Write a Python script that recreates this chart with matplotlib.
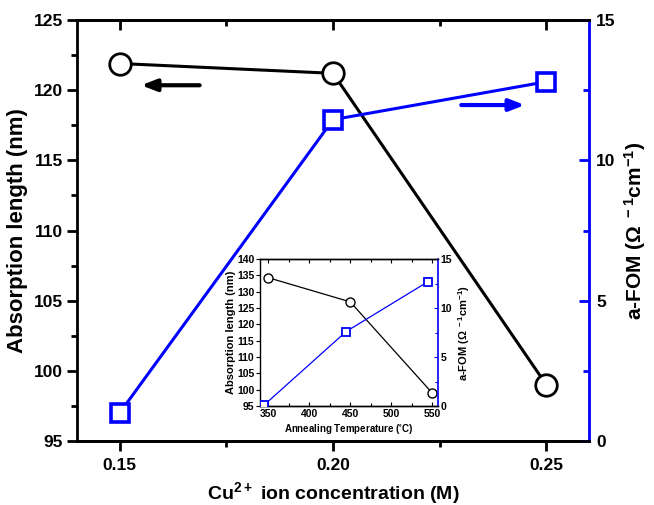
import numpy as np
import matplotlib.pyplot as plt
from matplotlib.ticker import MultipleLocator

plt.rcParams['font.family'] = ['Liberation Sans', 'DejaVu Sans']
plt.rcParams['font.weight'] = 'bold'
plt.rcParams['mathtext.default'] = 'regular'

# 主グラフのデータ
conc = [0.15, 0.20, 0.25]
abs_len = [121.9, 121.2, 99.0]
fom = [1.0, 11.45, 12.8]

# インセットのデータ
temp_abs = [350, 450, 550]
abs_len_in = [134.3, 126.9, 99.0]
temp_fom = [345, 445, 545]
fom_in = [0.1, 7.6, 12.7]

blue = '#0000ff'

fig = plt.figure(figsize=(6.54, 5.05), dpi=100)
ax = fig.add_axes([0.1177, 0.1267, 0.783, 0.8337])
ax2 = ax.twinx()

ax.plot(conc, abs_len, color='k', lw=2.2, marker='o', ms=15.5, mfc='white',
        mec='k', mew=2.0, zorder=3)
ax2.plot(conc, fom, color=blue, lw=2.2, marker='s', ms=13, mfc='white',
         mec=blue, mew=2.6, zorder=3)

ax.set_xlim(0.14, 0.26)
ax.set_ylim(95, 125)
ax2.set_ylim(0, 15)

ax.xaxis.set_major_locator(MultipleLocator(0.05))
ax.xaxis.set_minor_locator(MultipleLocator(0.025))
ax.yaxis.set_major_locator(MultipleLocator(5))
ax.yaxis.set_minor_locator(MultipleLocator(2.5))
ax2.yaxis.set_major_locator(MultipleLocator(5))
ax2.yaxis.set_minor_locator(MultipleLocator(2.5))
ax.xaxis.set_major_formatter(plt.FormatStrFormatter('%.2f'))

for s in ['left', 'bottom', 'top']:
    ax.spines[s].set_linewidth(2.0)
    ax2.spines[s].set_linewidth(2.0)
ax.spines['right'].set_visible(False)
ax2.spines['left'].set_visible(False)
ax2.spines['right'].set_color(blue)
ax2.spines['right'].set_linewidth(2.0)

ax.tick_params(axis='x', which='both', direction='out', top=False, width=2.0,
               labelsize=12.5, pad=5)
ax.tick_params(axis='x', which='major', length=7)
ax.tick_params(axis='x', which='minor', length=4)
ax.tick_params(axis='y', which='both', direction='out', width=2.0,
               labelsize=12.5, pad=3)
ax.tick_params(axis='y', which='major', length=7)
ax.tick_params(axis='y', which='minor', length=4)
ax2.tick_params(axis='y', which='both', direction='in', color=blue,
                width=2.0, labelsize=12.5, pad=5)
ax2.tick_params(axis='y', which='major', length=7)
ax2.tick_params(axis='y', which='minor', length=4)

# 上側の目盛り(内向き)
axt = ax.secondary_xaxis('top')
axt.xaxis.set_major_locator(MultipleLocator(0.05))
axt.xaxis.set_minor_locator(MultipleLocator(0.025))
axt.tick_params(which='both', direction='in', width=2.0, labeltop=False)
axt.tick_params(which='major', length=7)
axt.tick_params(which='minor', length=4)
axt.spines['top'].set_linewidth(2.0)

ax.set_xlabel('Cu$^{2+}$ ion concentration (M)', fontsize=14, fontweight='bold',
              labelpad=5)
ax.set_ylabel('Absorption length (nm)', fontsize=16, fontweight='bold', labelpad=4)
ax2.set_ylabel(r'a-FOM ($\Omega^{\ -1}$cm$^{-1}$)', fontsize=15,
               fontweight='bold', labelpad=5)

# 矢印
ax.annotate('', xy=(0.12, 0.845), xytext=(0.245, 0.845), xycoords='axes fraction',
            arrowprops=dict(arrowstyle='-|>,head_length=0.9,head_width=0.35',
                            color='k', lw=3))
ax.annotate('', xy=(0.88, 0.798), xytext=(0.745, 0.798), xycoords='axes fraction',
            arrowprops=dict(arrowstyle='-|>,head_length=0.9,head_width=0.35',
                            color=blue, lw=3))

# インセット
axi = fig.add_axes([0.3976, 0.196, 0.272, 0.291])
axi2 = axi.twinx()
axi.plot(temp_abs, abs_len_in, color='k', lw=0.9, marker='o', ms=6.5, mfc='white',
         mec='k', mew=1.0, zorder=3)
axi2.plot(temp_fom, fom_in, color=blue, lw=0.9, marker='s', ms=5.5, mfc='white',
          mec=blue, mew=1.3, zorder=3)
axi.set_xlim(340, 557)
axi.set_ylim(95, 140)
axi2.set_ylim(0, 15)
axi.xaxis.set_major_locator(MultipleLocator(50))
axi.xaxis.set_minor_locator(MultipleLocator(25))
axi.yaxis.set_major_locator(MultipleLocator(5))
axi2.yaxis.set_major_locator(MultipleLocator(5))
axi2.yaxis.set_minor_locator(MultipleLocator(2.5))
for s in ['left', 'bottom', 'top']:
    axi.spines[s].set_linewidth(1.0)
    axi2.spines[s].set_linewidth(1.0)
axi.spines['right'].set_visible(False)
axi2.spines['left'].set_visible(False)
axi2.spines['right'].set_color(blue)
axi2.spines['right'].set_linewidth(1.2)
axi.tick_params(axis='x', which='both', direction='in', top=True, width=0.8,
                labelsize=7.5, pad=2)
axi.tick_params(axis='x', which='major', length=3)
axi.tick_params(axis='x', which='minor', length=2)
axi.tick_params(axis='y', direction='out', width=0.8, length=3, labelsize=7.5, pad=1)
axi2.tick_params(axis='y', which='both', direction='in', color=blue, width=0.8,
                 labelsize=7.5, pad=2)
axi2.tick_params(axis='y', which='major', length=3)
axi2.tick_params(axis='y', which='minor', length=2)
axi.set_xlabel(r'Annealing Temperature ($^{\circ}$C)', fontsize=7,
               fontweight='bold', labelpad=2)
axi.set_ylabel('Absorption length (nm)', fontsize=8, fontweight='bold', labelpad=1)
axi2.set_ylabel(r'a-FOM ($\Omega^{\ -1}$cm$^{-1}$)', fontsize=8,
                fontweight='bold', labelpad=3)

fig.savefig('out.png', dpi=100)
